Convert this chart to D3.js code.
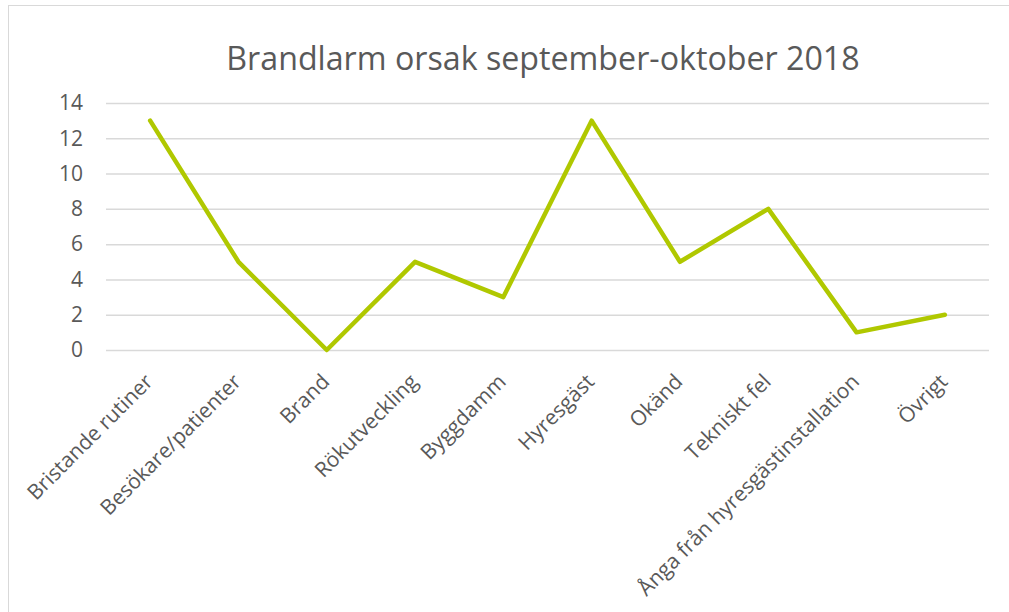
<!DOCTYPE html>
<html>
<head>
<meta charset="utf-8">
<script src="https://cdn.jsdelivr.net/npm/d3@7"></script>
<style>
  body { margin: 0; background: #fff; }
  svg { display: block; font-family: "Open Sans", sans-serif; }
</style>
</head>
<body>
<div id="app"></div>
<script>
`use strict`;

const Categories = [`Bristande rutiner`, `Besökare/patienter`, `Brand`, `Rökutveckling`, `Byggdamm`, `Hyresgäst`, `Okänd`, `Tekniskt fel`, `Ånga från hyresgästinstallation`, `Övrigt`];
const Values = [13, 5, 0, 5, 3, 13, 5, 8, 1, 2];
const Ticks = [0, 2, 4, 6, 8, 10, 12, 14];
const Title = `Brandlarm orsak september-oktober 2018`;

const W = 1009, H = 612;
const Plot = {left: 106, right: 989, top: 103, bottom: 350};

let SVG = d3.select(`#app`).append(`svg`).attr(`width`, W).attr(`height`, H);

// chart frame
SVG.append(`rect`).attr(`x`, 8.5).attr(`y`, 5.5).attr(`width`, 1010).attr(`height`, 620)
  .attr(`fill`, `#fff`).attr(`stroke`, `#d9d9d9`).attr(`stroke-width`, 1);

SVG.append(`text`).attr(`x`, 543).attr(`y`, 70).attr(`text-anchor`, `middle`)
  .attr(`font-size`, `32.2px`).attr(`fill`, `#595959`).text(Title);

let x = d3.scaleBand().domain(Categories).range([Plot.left, Plot.right]);
let y = d3.scaleLinear().domain([0, 14]).range([Plot.bottom, Plot.top]);

// grid + y labels
let yAxis = SVG.append(`g`).attr(`transform`, `translate(${Plot.left},0)`)
  .call(d3.axisLeft(y).tickValues(Ticks).tickSize(-(Plot.right - Plot.left)).tickPadding(23));

yAxis.select(`.domain`).remove();
yAxis.selectAll(`line`).attr(`stroke`, `#d9d9d9`).attr(`stroke-width`, 1.5);
yAxis.selectAll(`text`).attr(`fill`, `#595959`).attr(`font-size`, `21px`).attr(`font-family`, `"Open Sans", sans-serif`);

// x labels
SVG.append(`g`).selectAll(`text`).data(Categories).enter().append(`text`)
  .attr(`transform`, d => `translate(${x(d) + x.bandwidth() / 2 + 4},383) rotate(-45)`)
  .attr(`text-anchor`, `end`)
  .attr(`font-size`, `21px`).attr(`fill`, `#595959`).text(d => d);

// line
let line = d3.line().x((d, i) => x(Categories[i]) + x.bandwidth() / 2).y(d => y(d));

SVG.append(`path`).datum(Values).attr(`d`, line).attr(`fill`, `none`)
  .attr(`stroke`, `#b0c800`).attr(`stroke-width`, 4.5)
  .attr(`stroke-linejoin`, `round`).attr(`stroke-linecap`, `round`);
</script>
</body>
</html>
